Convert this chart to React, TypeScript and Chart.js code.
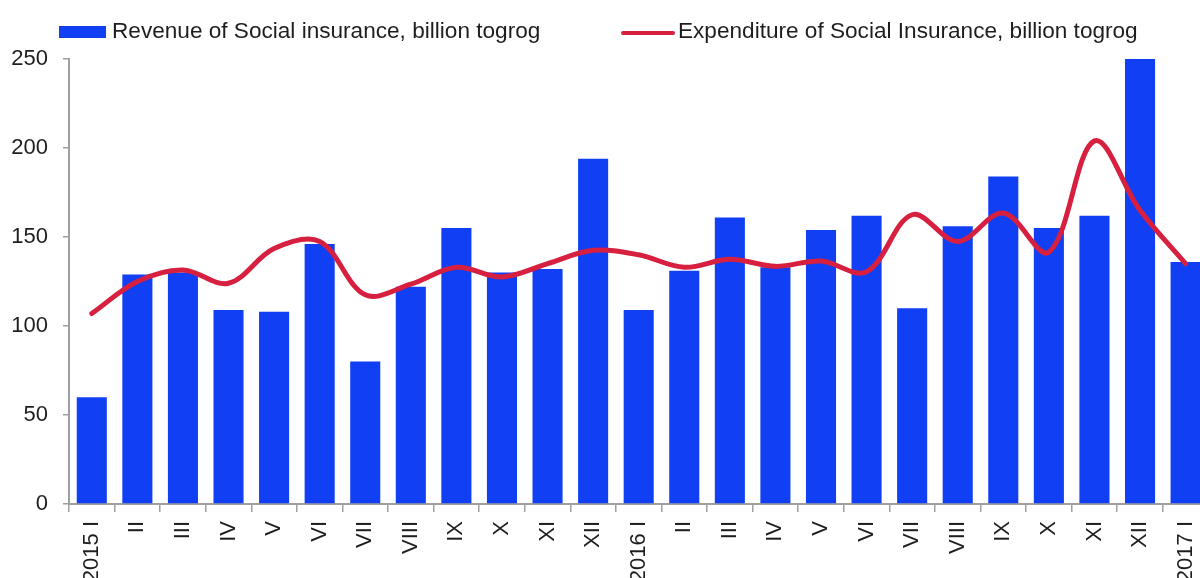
import React, { useEffect, useRef } from "react";
import { Chart, registerables } from "chart.js";

Chart.register(...registerables);

const categories: string[] = [
  "2015 I", "II", "III", "IV", "V", "VI", "VII", "VIII", "IX", "X", "XI", "XII",
  "2016 I", "II", "III", "IV", "V", "VI", "VII", "VIII", "IX", "X", "XI", "XII",
  "2017 I",
];

const revenue: number[] = [
  60, 129, 130, 109, 108, 146, 80, 122, 155, 130, 132, 194,
  109, 131, 161, 133, 154, 162, 110, 156, 184, 155, 162, 250,
  136,
];

const expenditure: number[] = [
  107, 125, 131.5, 124, 143.5, 147.5, 117.5, 123.5, 133, 127.5, 135, 142.5,
  140, 133, 137.5, 133.5, 136.5, 130.5, 162.5, 147.5, 163.5, 141.5, 204, 165,
  135,
];

const yTicks: number[] = [0, 50, 100, 150, 200, 250];

const revenueLabel = "Revenue of Social insurance, billion togrog";
const expenditureLabel = "Expenditure of Social Insurance, billion togrog";

const BLUE = "#113ff3";
const RED = "#d7203f";
const AXIS = "#a0a0a0";
const TEXT = "#1e1e1e";
const FONT_FAMILY = "'Liberation Sans', Arial, sans-serif";
const FONT_SIZE = 22;
const LEGEND_FONT_SIZE = 22.6;

const legendPlugin = {
  id: "customLegend",
  afterDraw(chart: any) {
    const ctx = chart.ctx as CanvasRenderingContext2D;
    const ds = chart.data.datasets;
    ctx.save();
    ctx.font = `${LEGEND_FONT_SIZE}px ${FONT_FAMILY}`;
    ctx.textBaseline = "middle";
    // bar item
    ctx.fillStyle = ds[0].backgroundColor;
    ctx.fillRect(59, 26, 47, 12);
    ctx.fillStyle = TEXT;
    ctx.fillText(ds[0].label, 112, 32);
    // line item
    ctx.strokeStyle = ds[1].borderColor;
    ctx.lineWidth = 4;
    ctx.lineCap = "round";
    ctx.beginPath();
    ctx.moveTo(623, 33);
    ctx.lineTo(673, 33);
    ctx.stroke();
    ctx.fillStyle = TEXT;
    ctx.fillText(ds[1].label, 678, 32);
    ctx.restore();
  },
};

export default function App() {
  const canvasRef = useRef<HTMLCanvasElement | null>(null);

  useEffect(() => {
    if (!canvasRef.current) return;
    const chart = new Chart(canvasRef.current, {
      type: "bar",
      data: {
        labels: categories,
        datasets: [
          {
            type: "bar",
            label: revenueLabel,
            data: revenue,
            backgroundColor: BLUE,
            borderWidth: 0,
            categoryPercentage: 1,
            barPercentage: 0.66,
            order: 2,
          } as any,
          {
            type: "line",
            label: expenditureLabel,
            data: expenditure,
            borderColor: RED,
            backgroundColor: RED,
            borderWidth: 5,
            pointRadius: 0,
            tension: 0.35,
            fill: false,
            order: 1,
            borderCapStyle: "round",
          } as any,
        ],
      },
      options: {
        responsive: false,
        animation: false,
        devicePixelRatio: 1,
        layout: { padding: { top: 59, left: 0, right: 0, bottom: 0 } },
        plugins: {
          legend: { display: false },
          tooltip: { enabled: false },
        },
        scales: {
          x: {
            type: "category",
            offset: true,
            grid: {
              display: true,
              offset: true,
              drawOnChartArea: false,
              drawTicks: true,
              tickLength: 8,
              color: AXIS,
              lineWidth: 1.5,
            },
            border: { display: true, color: AXIS, width: 2 },
            ticks: {
              autoSkip: false,
              minRotation: 90,
              maxRotation: 90,
              padding: 9,
              color: TEXT,
              font: { family: FONT_FAMILY, size: FONT_SIZE },
            },
            afterFit: (scale: any) => {
              scale.height = 578 - 504;
            },
          },
          y: {
            min: 0,
            max: 250,
            afterBuildTicks: (scale: any) => {
              scale.ticks = yTicks.map((v) => ({ value: v }));
            },
            grid: {
              display: true,
              drawOnChartArea: false,
              drawTicks: true,
              tickLength: 6,
              color: AXIS,
              lineWidth: 1.5,
            },
            border: { display: true, color: AXIS, width: 2 },
            ticks: {
              padding: 15,
              color: TEXT,
              font: { family: FONT_FAMILY, size: FONT_SIZE },
            },
            afterFit: (scale: any) => {
              scale.width = 69;
            },
          },
        },
      },
      plugins: [legendPlugin],
    });
    return () => chart.destroy();
  }, []);

  return (
    <div
      style={{
        position: "fixed",
        left: 0,
        top: 0,
        width: 1200,
        height: 578,
        overflow: "hidden",
        background: "#ffffff",
      }}
    >
      <canvas
        ref={canvasRef}
        width={1221}
        height={578}
        style={{ width: 1221, height: 578, display: "block" }}
      />
    </div>
  );
}
